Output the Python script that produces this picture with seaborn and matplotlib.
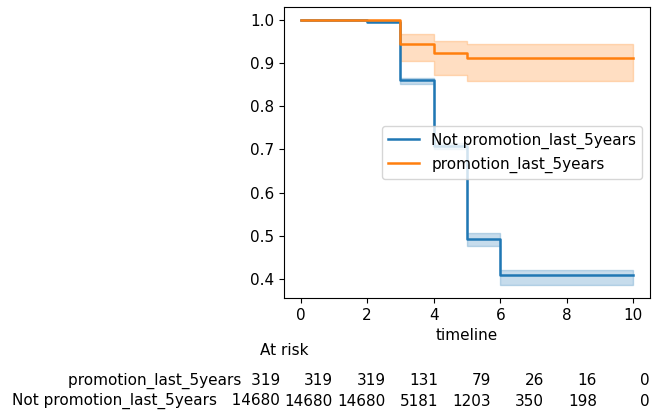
import numpy as np
import pandas as pd
import matplotlib
matplotlib.use("Agg")
import matplotlib.pyplot as plt
import seaborn as sns

plt.rcParams['font.size'] = 11

# Kaplan-Meier estimates
timeline = [0, 2, 3, 4, 5, 6, 10]
not_promo_surv = [1.0, 0.997, 0.862, 0.708, 0.492, 0.408, 0.408]
not_promo_lo = [1.0, 0.996, 0.853, 0.700, 0.476, 0.386, 0.386]
not_promo_hi = [1.0, 0.998, 0.866, 0.716, 0.506, 0.421, 0.421]
promo_surv = [1.0, 1.0, 0.945, 0.923, 0.912, 0.912, 0.912]
promo_lo = [1.0, 1.0, 0.906, 0.873, 0.859, 0.859, 0.859]
promo_hi = [1.0, 1.0, 0.968, 0.952, 0.946, 0.946, 0.946]

labels = ["Not promotion_last_5years", "promotion_last_5years"]
colors = ["#1f77b4", "#ff7f0e"]

# at risk table
risk_labels = ["promotion_last_5years", "Not promotion_last_5years"]
promo_at_risk = [319, 319, 319, 131, 79, 26, 16, 0]
not_promo_at_risk = [14680, 14680, 14680, 5181, 1203, 350, 198, 0]

df = pd.DataFrame({
    "timeline": timeline * 2,
    "surv": not_promo_surv + promo_surv,
    "group": [labels[0]] * len(timeline) + [labels[1]] * len(timeline),
})

fig = plt.figure(figsize=(6.52, 4.15), dpi=100)
ax = fig.add_axes([0.4356, 0.2819, 0.5613, 0.7012])

sns.lineplot(data=df, x="timeline", y="surv", hue="group", palette=colors,
             drawstyle="steps-post", linewidth=1.8, ax=ax)
ax.fill_between(timeline, not_promo_lo, not_promo_hi, step="post",
                color=colors[0], alpha=0.25, linewidth=1)
ax.fill_between(timeline, promo_lo, promo_hi, step="post",
                color=colors[1], alpha=0.25, linewidth=1)

ax.set_xticks([0, 2, 4, 6, 8, 10])
ax.set_xlabel("timeline")
ax.set_ylabel("")
ax.legend(loc="center right", title=None)

# at-risk counts below the axis
ax.text(0.0, -0.179, "At risk", transform=ax.transAxes, ha="center", va="center")
cols = np.linspace(-0.011, 1.0, len(promo_at_risk))
for i, x in enumerate(cols):
    top = str(promo_at_risk[i])
    bot = str(not_promo_at_risk[i])
    if i == 0:
        top = risk_labels[0] + "  " + top
        bot = risk_labels[1] + "   " + bot
    ax.text(x, -0.285, top, transform=ax.transAxes, ha="right", va="center")
    ax.text(x, -0.354, bot, transform=ax.transAxes, ha="right", va="center")

fig.savefig("out.png", dpi=100)
